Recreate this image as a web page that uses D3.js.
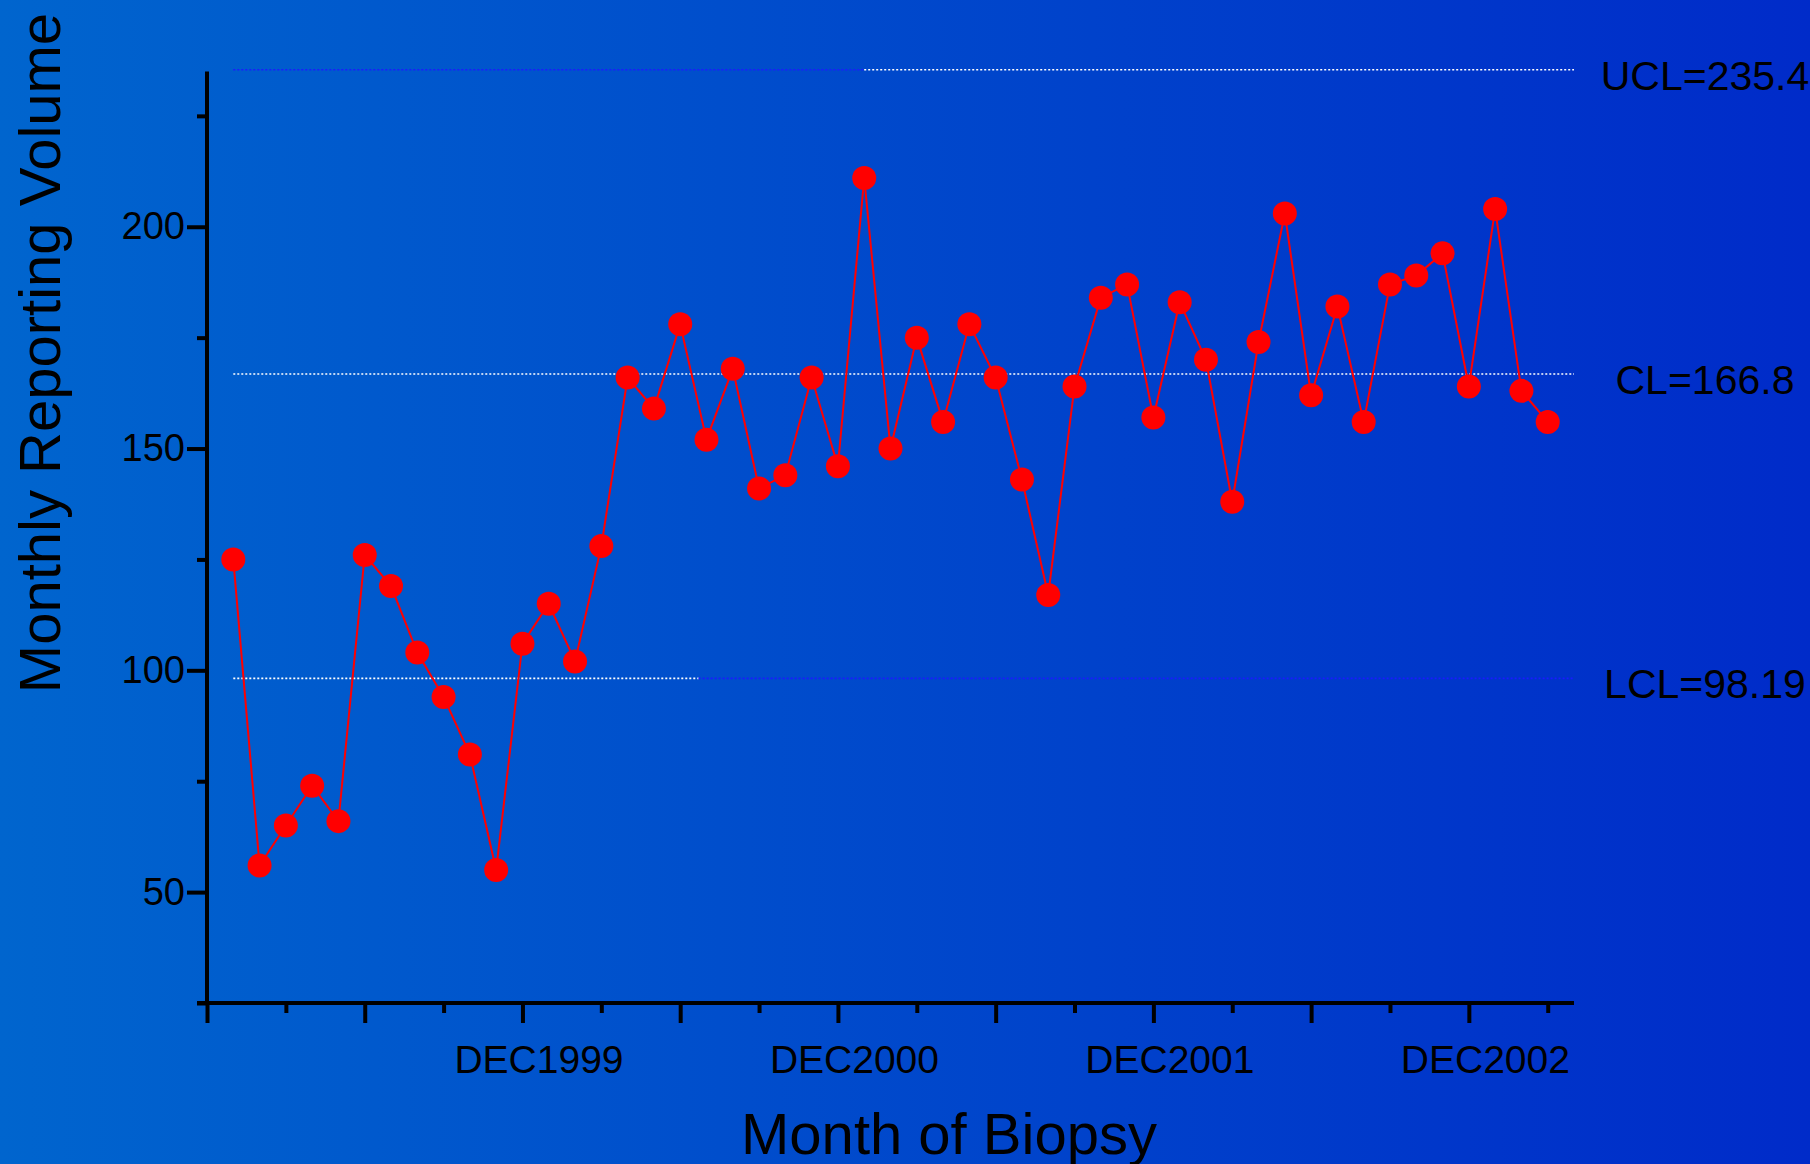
<!DOCTYPE html>
<html>
<head>
<meta charset="utf-8">
<script src="https://cdn.jsdelivr.net/npm/d3@7"></script>
<style>
  html, body { margin: 0; padding: 0; }
  svg { display: block; font-family: "Liberation Sans", Arial, sans-serif; }
</style>
</head>
<body>
<svg id="chart"></svg>
<script>
// Monthly reporting volume, Jan 1999 .. Mar 2003 (month index 0..50)
const volumes = [125, 56, 65, 74, 66, 126, 119, 104, 94, 81, 55, 106,
                 115, 102, 128, 166, 159, 178, 152, 168, 141, 144, 166, 146,
                 211, 150, 175, 156, 178, 166, 143, 117, 164, 184, 187, 157,
                 183, 170, 138, 174, 203, 162, 182, 156, 187, 189, 194, 164,
                 204, 163, 156];

// control limits
const limitNames  = ["UCL", "CL", "LCL"];
const limitValues = [235.4, 166.8, 98.19];
const limitLabels = ["UCL=235.4", "CL=166.8", "LCL=98.19"];
// line colour changes along the limit lines: [from month, to month, colour]
const limitSegments = [
  [[0, 24, "#1a1aff"], [24, 51, "#ffffff"]],
  [[0, 51, "#ffffff"]],
  [[0, 17.7, "#ffffff"], [17.7, 51, "#1a1aff"]]
];

const yTicks = [25, 50, 75, 100, 125, 150, 175, 200, 225];
const yLabelled = [50, 100, 150, 200];
const xTicks = d3.range(-1, 51, 3);
const xMajor = [-1, 5, 11, 17, 23, 29, 35, 41, 47];
const xLabelTicks = [11, 23, 35, 47];
const xLabels = ["DEC1999", "DEC2000", "DEC2001", "DEC2002"];

const width = 1810, height = 1164;

const svg = d3.select("#chart")
    .attr("width", width)
    .attr("height", height);

// background gradient
const grad = svg.append("defs").append("linearGradient")
    .attr("id", "bg")
    .attr("x1", "0%").attr("x2", "100%").attr("y1", "0%").attr("y2", "0%");
grad.append("stop").attr("offset", "0%").attr("stop-color", "#0065ce");
grad.append("stop").attr("offset", "100%").attr("stop-color", "#002bc9");
svg.append("rect").attr("width", width).attr("height", height).attr("fill", "url(#bg)");

const x = d3.scaleLinear().domain([-1, 51]).range([207, 1574]);
const y = d3.scaleLinear().domain([25, 235]).range([1003, 71.5]);

// limit lines
limitValues.forEach((v, i) => {
  limitSegments[i].forEach(seg => {
    svg.append("line")
      .attr("x1", x(seg[0])).attr("x2", x(seg[1]))
      .attr("y1", y(v)).attr("y2", y(v))
      .attr("stroke", seg[2])
      .attr("stroke-width", 1.6)
      .attr("stroke-dasharray", "2,2");
  });
  svg.append("text")
    .attr("x", 1705)
    .attr("y", y(v) + 20)
    .attr("text-anchor", "middle")
    .attr("font-size", 41)
    .attr("fill", "#000")
    .text(limitLabels[i]);
});

// y axis
const yAxis = svg.append("g")
    .attr("transform", `translate(${x(-1)},0)`)
    .call(d3.axisLeft(y)
      .tickValues(yTicks)
      .tickSize(20)
      .tickPadding(2)
      .tickFormat(d => yLabelled.includes(d) ? d : ""));
yAxis.select(".domain").attr("stroke", "#000").attr("stroke-width", 4)
    .attr("d", `M0,${y(235)}V${y(25)}`);
yAxis.selectAll(".tick line").attr("stroke", "#000").attr("stroke-width", 4)
    .attr("x2", d => yLabelled.includes(d) ? -20 : -10);
yAxis.selectAll(".tick text").attr("font-size", 38).attr("fill", "#000")
    .attr("font-family", "Liberation Sans, Arial, sans-serif");

// x axis
const xAxis = svg.append("g")
    .attr("transform", `translate(0,${y(25)})`)
    .call(d3.axisBottom(x)
      .tickValues(xTicks)
      .tickSize(20)
      .tickPadding(22)
      .tickFormat(d => {
        const k = xLabelTicks.indexOf(d);
        return k >= 0 ? xLabels[k] : "";
      }));
xAxis.select(".domain").attr("stroke", "#000").attr("stroke-width", 4)
    .attr("d", `M${x(-1) - 10},0H${x(51)}`);
xAxis.selectAll(".tick line").attr("stroke", "#000").attr("stroke-width", 4)
    .attr("y2", d => xMajor.includes(d) ? 20 : 10);
xAxis.selectAll(".tick text").attr("font-size", 39).attr("fill", "#000")
    .attr("dx", 16)
    .attr("font-family", "Liberation Sans, Arial, sans-serif");

// data line and markers
const line = d3.line()
    .x((d, i) => x(i))
    .y(d => y(d));

svg.append("path")
    .datum(volumes)
    .attr("d", line)
    .attr("fill", "none")
    .attr("stroke", "#ff0000")
    .attr("stroke-width", 2);

svg.selectAll("circle.pt")
  .data(volumes)
  .enter()
  .append("circle")
    .attr("class", "pt")
    .attr("cx", (d, i) => x(i))
    .attr("cy", d => y(d))
    .attr("r", 12)
    .attr("fill", "#ff0000");

// axis titles
svg.append("text")
    .attr("x", 949)
    .attr("y", 1154)
    .attr("text-anchor", "middle")
    .attr("font-size", 58)
    .attr("fill", "#000")
    .text("Month of Biopsy");

svg.append("text")
    .attr("transform", "translate(60,353) rotate(-90)")
    .attr("text-anchor", "middle")
    .attr("font-size", 58)
    .attr("fill", "#000")
    .text("Monthly Reporting Volume");
</script>
</body>
</html>
